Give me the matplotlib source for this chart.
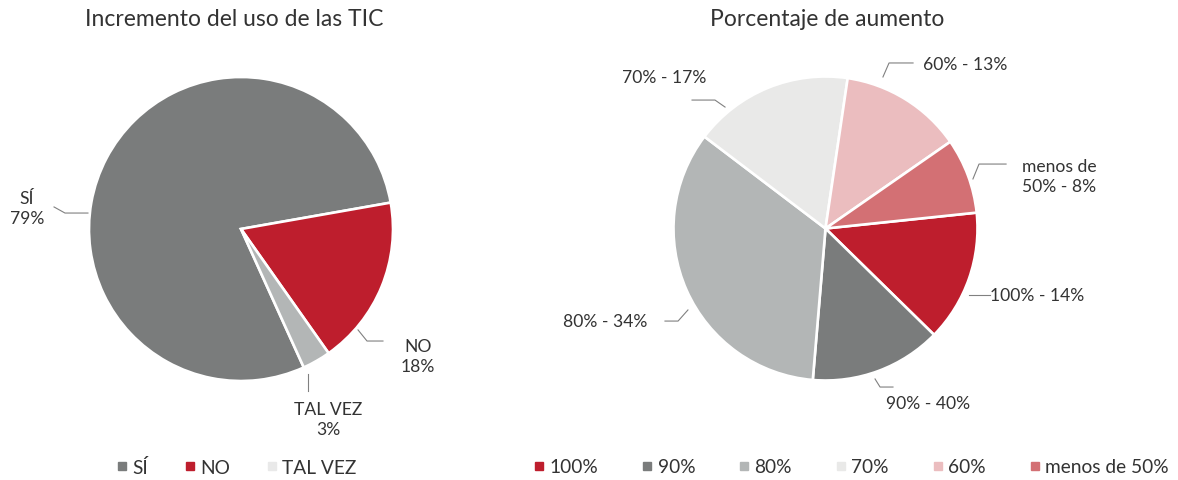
import matplotlib
matplotlib.use("Agg")
import matplotlib.pyplot as plt
from matplotlib.lines import Line2D

plt.rcParams['font.family'] = ['Lato', 'DejaVu Sans']

# ---- data ----
left_title = "Incremento del uso de las TIC"
left_categories = ["SÍ", "NO", "TAL VEZ"]
left_values = [79, 18, 3]
left_labels = ["SÍ\n79%", "NO\n18%", "TAL VEZ\n3%"]
left_colors = ["#7a7c7c", "#be1e2d", "#b3b6b6"]
left_legend_colors = ["#7a7c7c", "#be1e2d", "#e9e9e9"]

right_title = "Porcentaje de aumento"
right_categories = ["100%", "90%", "80%", "70%", "60%", "menos de 50%"]
right_values = [14, 14, 34, 17, 13, 8]
right_labels = ["100% - 14%", "90% - 40%", "80% - 34%", "70% - 17%", "60% - 13%", "menos de\n50% - 8%"]
right_colors = ["#be1e2d", "#7a7c7c", "#b3b6b6", "#e9e9e8", "#ebbdbf", "#d37074"]

W, H = 1178, 481
R = 152.0
L = 1.5
TXT = "#333333"
LINE = "#808080"

fig = plt.figure(figsize=(W / 100, H / 100), dpi=100)


def pix_axes(cx, cy):
    half = R * L
    ax = fig.add_axes([(cx - half) / W, (H - cy - half) / H, 2 * half / W, 2 * half / H])
    return ax


def draw_pie(ax, values, colors, start):
    ax.pie(values, colors=colors, startangle=start, counterclock=False,
           wedgeprops=dict(edgecolor="white", linewidth=1.9))
    ax.set_xlim(-L, L)
    ax.set_ylim(-L, L)
    ax.set_aspect("equal")
    ax.axis("off")


def leader(ax, pts):
    xs, ys = zip(*pts)
    ax.plot(xs, ys, color=LINE, lw=0.8, clip_on=False)


fs = 12.6
LS = 1.3

# left pie
axl = pix_axes(241, 230)
draw_pie(axl, left_values, left_colors, 10 + 360 * left_values[0] / sum(left_values))
leader(axl, [(-1.230, 0.145), (-1.158, 0.105), (-1.007, 0.105)])
leader(axl, [(0.770, -0.664), (0.829, -0.737), (0.934, -0.737)])
leader(axl, [(0.441, -0.954), (0.441, -1.066)])
axl.text(-1.408, 0.138, left_labels[0], ha="center", va="center", fontsize=fs, color=TXT, linespacing=LS)
axl.text(1.164, -0.836, left_labels[1], ha="center", va="center", fontsize=fs, color=TXT, linespacing=LS)
axl.text(0.572, -1.25, left_labels[2], ha="center", va="center", fontsize=fs, color=TXT, linespacing=LS)

# right pie
axr = pix_axes(825.5, 229.5)
draw_pie(axr, right_values, right_colors, 6)
leader(axr, [(0.944, -0.4375), (1.082, -0.4375)])
leader(axr, [(0.326, -0.990), (0.359, -1.043), (0.444, -1.043)])
leader(axr, [(-0.905, -0.536), (-0.970, -0.609), (-1.056, -0.609)])
leader(axr, [(-0.661, 0.799), (-0.727, 0.845), (-0.878, 0.845)])
leader(axr, [(0.378, 0.997), (0.418, 1.089), (0.576, 1.089)])
leader(axr, [(0.970, 0.326), (1.010, 0.424), (1.188, 0.424)])
axr.text(1.085, -0.4375, right_labels[0], ha="left", va="center", fontsize=fs, color=TXT)
axr.text(0.674, -1.148, right_labels[1], ha="center", va="center", fontsize=fs, color=TXT)
axr.text(-1.451, -0.609, right_labels[2], ha="center", va="center", fontsize=fs, color=TXT)
axr.text(-1.063, 0.997, right_labels[3], ha="center", va="center", fontsize=fs, color=TXT)
axr.text(0.641, 1.082, right_labels[4], ha="left", va="center", fontsize=fs, color=TXT)
axr.text(1.536, 0.345, right_labels[5], ha="center", va="center", fontsize=fs, color=TXT, linespacing=LS)

# titles
fig.text(234 / W, 1 - 20 / H, left_title, ha="center", va="center", fontsize=16.5, color=TXT)
fig.text(827 / W, 1 - 20 / H, right_title, ha="center", va="center", fontsize=16.5, color=TXT)


def legend(cats, cols, xc, spacing):
    handles = [Line2D([], [], marker="s", linestyle="none", markersize=6.2,
                      markerfacecolor=c, markeredgecolor=c) for c in cols]
    fig.legend(handles, cats, loc="center", bbox_to_anchor=(xc / W, 1 - 468 / H),
               ncol=len(cats), frameon=False, fontsize=13.8, handlelength=0.45,
               handletextpad=0.3, columnspacing=spacing, labelcolor=TXT,
               borderpad=0, borderaxespad=0)


legend(left_categories, left_legend_colors, 237, 1.95)
legend(right_categories, right_colors, 852, 2.35)

fig.savefig("out.png", dpi=100)
